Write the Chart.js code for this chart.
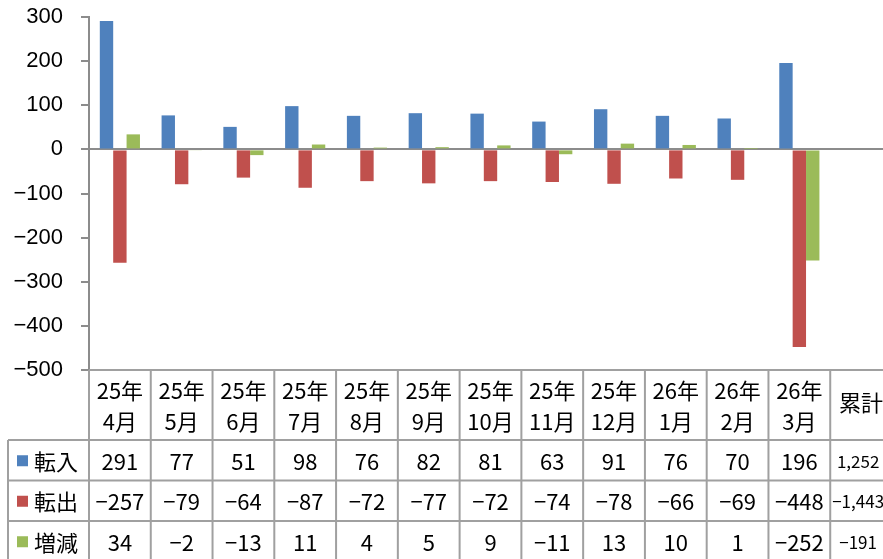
<!DOCTYPE html>
<html>
<head>
<meta charset="utf-8">
<script src="https://cdn.jsdelivr.net/npm/chart.js@4.4.1/dist/chart.umd.min.js"></script>
<style>
  html, body { margin: 0; padding: 0; background: #fff; }
  #wrap { width: 883px; height: 559px; overflow: hidden; position: relative; }
  #chart { display: block; }
</style>
</head>
<body>
<div id="wrap"><canvas id="chart" width="895" height="559"></canvas></div>
<script>
// header labels (two lines each), last column is the total
const categories = [
    ['25年', '4月'], ['25年', '5月'], ['25年', '6月'], ['25年', '7月'],
    ['25年', '8月'], ['25年', '9月'], ['25年', '10月'], ['25年', '11月'],
    ['25年', '12月'], ['26年', '1月'], ['26年', '2月'], ['26年', '3月'],
    ['累計']
];
const seriesNames = ['転入', '転出', '増減'];
const seriesColors = ['#4F81BD', '#C0504D', '#9BBB59'];
const inflow = [291, 77, 51, 98, 76, 82, 81, 63, 91, 76, 70, 196];
const outflow = [-257, -79, -64, -87, -72, -77, -72, -74, -78, -66, -69, -448];
const change = [34, -2, -13, 11, 4, 5, 9, -11, 13, 10, 1, -252];
const totals = ['1,252', '-1,443', '-191'];
const yTicks = [300, 200, 100, 0, -100, -200, -300, -400, -500];

const minus = v => String(v).replace('-', '\u2212');
const lineColor = '#a0a0a0';
const jpFont = '"Noto Sans CJK JP", "Noto Sans", sans-serif';

// data table drawn under the plot, aligned on the category scale
const tablePlugin = {
    id: 'dataTable',
    afterDraw(chart) {
        const ctx = chart.ctx;
        const xs = chart.scales.x;
        const area = chart.chartArea;
        const w = xs.getPixelForValue(1) - xs.getPixelForValue(0);
        const left = area.left;
        const right = left + w * categories.length;
        const headTop = area.bottom;
        const headBottom = 440;
        const rowH = 40.5;
        const tableLeft = 8;
        const bottom = headBottom + rowH * 3;

        ctx.save();
        ctx.strokeStyle = lineColor;
        ctx.lineWidth = 2;
        ctx.beginPath();
        ctx.moveTo(left, headTop); ctx.lineTo(right, headTop);
        for (let r = 0; r <= 3; r++) {
            const y = headBottom + r * rowH;
            ctx.moveTo(tableLeft, y); ctx.lineTo(right, y);
        }
        for (let i = 0; i <= categories.length; i++) {
            const x = left + i * w;
            ctx.moveTo(x, headTop); ctx.lineTo(x, bottom);
        }
        ctx.moveTo(tableLeft, headBottom); ctx.lineTo(tableLeft, bottom);
        ctx.stroke();

        ctx.fillStyle = '#000';
        ctx.textAlign = 'center';
        ctx.textBaseline = 'middle';
        ctx.font = '22px ' + jpFont;
        categories.forEach((lab, i) => {
            const cx = xs.getPixelForValue(i);
            if (lab.length === 2) {
                ctx.fillText(lab[0], cx, 391);
                ctx.fillText(lab[1], cx, 422);
            } else {
                ctx.fillText(lab[0], cx, 403);
            }
        });

        const rows = [inflow, outflow, change];
        rows.forEach((vals, r) => {
            const cy = headBottom + r * rowH + rowH / 2 + 1;
            ctx.fillStyle = seriesColors[r];
            ctx.fillRect(17, cy - 6, 11, 11);
            ctx.fillStyle = '#000';
            ctx.textAlign = 'left';
            ctx.font = '22px ' + jpFont;
            ctx.fillText(seriesNames[r], 34, cy);
            ctx.textAlign = 'center';
            vals.forEach((v, i) => {
                ctx.fillText(minus(v), xs.getPixelForValue(i), cy);
            });
            ctx.font = '17px ' + jpFont;
            ctx.fillText(minus(totals[r]), xs.getPixelForValue(categories.length - 1) - 3, cy);
        });
        ctx.restore();
    }
};

const chartCtx = document.getElementById('chart').getContext('2d');
new Chart(chartCtx, {
    type: 'bar',
    data: {
        labels: categories.map(c => c.join('')),
        datasets: [
            { label: seriesNames[0], data: inflow, backgroundColor: seriesColors[0] },
            { label: seriesNames[1], data: outflow, backgroundColor: seriesColors[1] },
            { label: seriesNames[2], data: change, backgroundColor: seriesColors[2] }
        ]
    },
    options: {
        responsive: false,
        animation: false,
        devicePixelRatio: 1,
        layout: { padding: { top: 17, right: 3, bottom: 189, left: 0 } },
        datasets: { bar: { categoryPercentage: 0.65, barPercentage: 1.0 } },
        plugins: {
            legend: { display: false },
            tooltip: { enabled: false }
        },
        scales: {
            x: { display: false },
            y: {
                min: -500,
                max: 300,
                afterBuildTicks: s => { s.ticks = yTicks.map(v => ({ value: v })); },
                afterFit: s => { s.width = 89; s.paddingTop = 0; s.paddingBottom = 0; },
                border: { color: '#8c8c8c', width: 2 },
                grid: {
                    color: c => (c.tick && c.tick.value === 0 ? '#8c8c8c' : 'rgba(0,0,0,0)'),
                    lineWidth: 2,
                    tickColor: '#8c8c8c',
                    tickLength: 8,
                    tickWidth: 2
                },
                ticks: {
                    padding: 18,
                    color: '#000',
                    font: { family: '"Liberation Sans", Arial, sans-serif', size: 22 },
                    callback: v => minus(v)
                }
            }
        }
    },
    plugins: [tablePlugin]
});
</script>
</body>
</html>
